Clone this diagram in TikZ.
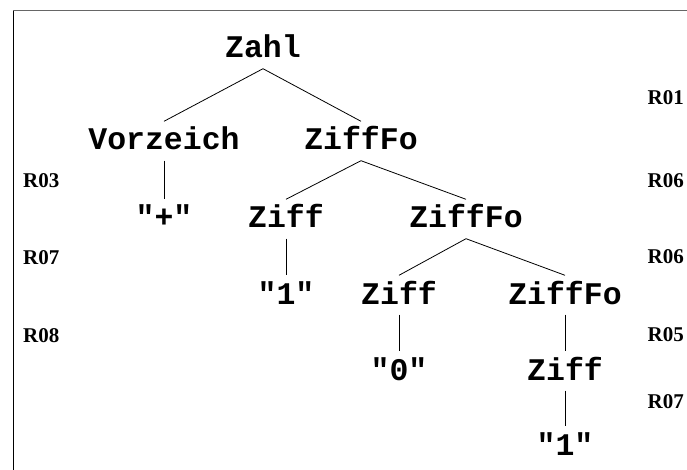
\documentclass[tikz,border=0pt]{standalone}
\usepackage{fontspec}
\newfontfamily\treemono{Liberation Mono}
\newfontfamily\rulefont{Liberation Serif}
\tikzset{
  tn/.style={anchor=base, inner xsep=0pt, inner ysep=10.5pt, text height=18pt, text depth=0pt,
    font=\treemono\bfseries\fontsize{31.5}{32}\selectfont},
  rlab/.style={inner sep=0pt, font=\rulefont\bfseries\fontsize{21}{22}\selectfont},
  rl/.style={rlab, anchor=base west},
  rr/.style={rlab, anchor=base east},
  edge/.style={draw=black, line width=0.8pt}
}
\begin{document}
\begin{tikzpicture}[x=1pt,y=-1pt]
\useasboundingbox (0,0) rectangle (687,470);
\draw[draw=black!60, line width=1pt] (13.5,470) -- (13.5,10.5);
\draw[draw=black!60, line width=1pt] (13,10.5) -- (687,10.5);
\draw[line width=1pt] (13.5,470) -- (13.5,11);
% tree nodes
\node[tn] (zahl) at (263,58) {Zahl};
\node[tn] (vz) at (164,150) {Vorzeich};
\node[tn] (zf1) at (361,150) {ZiffFo};
\node[tn] (plus) at (164,228) {"+"};
\node[tn] (z1) at (286,228) {Ziff};
\node[tn] (zf2) at (466,228) {ZiffFo};
\node[tn] (one1) at (286,304) {"1"};
\node[tn] (z2) at (399,304) {Ziff};
\node[tn] (zf3) at (565,304) {ZiffFo};
\node[tn] (zero) at (399,380) {"0"};
\node[tn] (z3) at (565,380) {Ziff};
\node[tn] (one2) at (565,455) {"1"};
% edges
\draw[edge] (zahl.south) -- (vz.north);
\draw[edge] (zahl.south) -- (zf1.north);
\draw[edge] (vz.south) -- (plus.north);
\draw[edge] (zf1.south) -- (z1.north);
\draw[edge] (zf1.south) -- (zf2.north);
\draw[edge] (z1.south) -- (one1.north);
\draw[edge] (zf2.south) -- (z2.north);
\draw[edge] (zf2.south) -- (zf3.north);
\draw[edge] (z2.south) -- (zero.north);
\draw[edge] (zf3.south) -- (z3.north);
\draw[edge] (z3.south) -- (one2.north);
% rule labels
\node[rl] (l1) at (23,188) {R03};
\node[rl] (l2) at (23,264) {R07};
\node[rl] (l3) at (23,342) {R08};
\node[rr] (r1) at (684,105) {R01};
\node[rr] (r2) at (684,188) {R06};
\node[rr] (r3) at (684,263) {R06};
\node[rr] (r4) at (684,341) {R05};
\node[rr] (r5) at (684,408) {R07};
\end{tikzpicture}
\end{document}
